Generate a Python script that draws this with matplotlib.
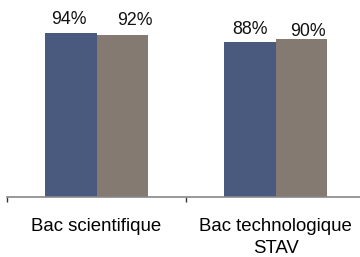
import numpy as np
import matplotlib
matplotlib.use("Agg")
import matplotlib.pyplot as plt

categories = ["Bac scientifique", "Bac technologique\nSTAV"]
series_a = [93.6, 88.2]   # blue bars
series_b = [92.3, 90.0]   # brown bars
labels_a = ["94%", "88%"]
labels_b = ["92%", "90%"]

plt.rcParams["font.family"] = ["Liberation Sans", "DejaVu Sans"]

fig = plt.figure(figsize=(3.6, 2.57), dpi=100)
ax = fig.add_axes([7 / 360, 60 / 257, 358 / 360, 197 / 257])

x = np.arange(len(categories))
w = 0.285
bars_a = ax.bar(x - w / 2, series_a, w, color="#4a5a7f", zorder=2)
bars_b = ax.bar(x + w / 2, series_b, w, color="#857a72", zorder=2)

# hand-placed data labels (offsets in points)
offs_a = [(-1.4, 6.0), (0.0, 5.5)]
offs_b = [(9.0, 7.0), (4.7, 1.7)]
for bars, labs, offs in [(bars_a, labels_a, offs_a), (bars_b, labels_b, offs_b)]:
    for b, lab, off in zip(bars, labs, offs):
        ax.annotate(lab, (b.get_x() + b.get_width() / 2, b.get_height()),
                    xytext=off, textcoords="offset points",
                    ha="center", va="baseline", fontsize=12.8, color="#111111")

ax.set_xlim(-0.5, 1.5)
ax.set_ylim(0, 112.1)
ax.set_yticks([])
for s in ["top", "right", "left"]:
    ax.spines[s].set_visible(False)
ax.spines["bottom"].set_color("#888888")
ax.spines["bottom"].set_linewidth(1.2)

ax.set_xticks(x)
ax.set_xticklabels(categories, fontsize=13.4, linespacing=1.4)
ax.tick_params(axis="x", which="major", length=0, pad=15)
ax.set_xticks([-0.5, 0.5, 1.5], minor=True)
ax.tick_params(axis="x", which="minor", length=3.6, width=1, color="#333333", direction="out")

fig.savefig("out.png", dpi=100)
